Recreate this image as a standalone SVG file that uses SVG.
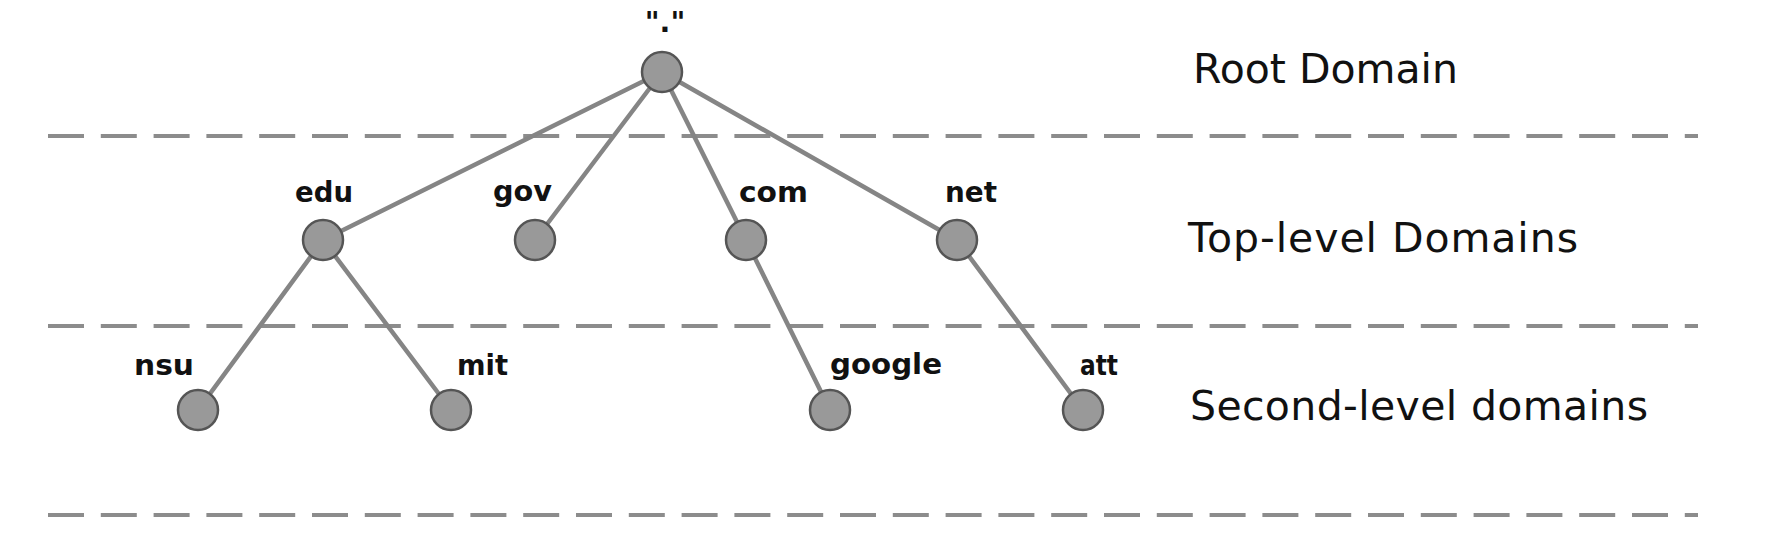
<svg xmlns="http://www.w3.org/2000/svg" width="1781" height="541" viewBox="0 0 1781 541">
<style>
.sep{stroke:#8c8c8c;stroke-width:4;stroke-dasharray:36 16.8;fill:none}
.edge{stroke:#858585;stroke-width:4.5;stroke-linecap:round;fill:none}
.node{fill:#999999;stroke:#555555;stroke-width:2.5}
.lbl{font-family:"DejaVu Sans",sans-serif;font-weight:bold;font-size:28.5px;fill:#111}
.lvl{font-family:"DejaVu Sans",sans-serif;font-size:41px;fill:#111}
</style>
<rect width="1781" height="541" fill="#ffffff"/>
<g id="separators">
<line class="sep" x1="48" y1="136" x2="1698" y2="136"/>
<line class="sep" x1="48" y1="326" x2="1698" y2="326"/>
<line class="sep" x1="48" y1="515" x2="1698" y2="515"/>
</g>
<g id="connectors">
<line class="edge" x1="662" y1="72" x2="323" y2="240"/>
<line class="edge" x1="662" y1="72" x2="535" y2="240"/>
<line class="edge" x1="662" y1="72" x2="746" y2="240"/>
<line class="edge" x1="662" y1="72" x2="957" y2="240"/>
<line class="edge" x1="323" y1="240" x2="198" y2="410"/>
<line class="edge" x1="323" y1="240" x2="451" y2="410"/>
<line class="edge" x1="746" y1="240" x2="830" y2="410"/>
<line class="edge" x1="957" y1="240" x2="1083" y2="410"/>
</g>
<g id="root"><circle class="node" cx="662" cy="72" r="20"/><text class="lbl" x="665" y="32" text-anchor="middle" font-size="32">"."</text></g>
<g id="edu"><circle class="node" cx="323" cy="240" r="20"/><text class="lbl" x="295" y="202" textLength="58" lengthAdjust="spacingAndGlyphs">edu</text></g>
<g id="gov"><circle class="node" cx="535" cy="240" r="20"/><text class="lbl" x="493" y="201" textLength="59" lengthAdjust="spacingAndGlyphs">gov</text></g>
<g id="com"><circle class="node" cx="746" cy="240" r="20"/><text class="lbl" x="739" y="202" textLength="69" lengthAdjust="spacingAndGlyphs">com</text></g>
<g id="net"><circle class="node" cx="957" cy="240" r="20"/><text class="lbl" x="945" y="202" textLength="52" lengthAdjust="spacingAndGlyphs">net</text></g>
<g id="nsu"><circle class="node" cx="198" cy="410" r="20"/><text class="lbl" x="134" y="375" textLength="60" lengthAdjust="spacingAndGlyphs">nsu</text></g>
<g id="mit"><circle class="node" cx="451" cy="410" r="20"/><text class="lbl" x="457" y="375" textLength="51" lengthAdjust="spacingAndGlyphs">mit</text></g>
<g id="google"><circle class="node" cx="830" cy="410" r="20"/><text class="lbl" x="830" y="374" textLength="112" lengthAdjust="spacingAndGlyphs">google</text></g>
<g id="att"><circle class="node" cx="1083" cy="410" r="20"/><text class="lbl" x="1080" y="375" textLength="38" lengthAdjust="spacingAndGlyphs">att</text></g>
<g id="levels">
<text class="lvl" x="1193" y="83" textLength="265">Root Domain</text>
<text class="lvl" x="1188" y="252" textLength="390">Top-level Domains</text>
<text class="lvl" x="1190" y="420" textLength="458">Second-level domains</text>
</g>
</svg>
